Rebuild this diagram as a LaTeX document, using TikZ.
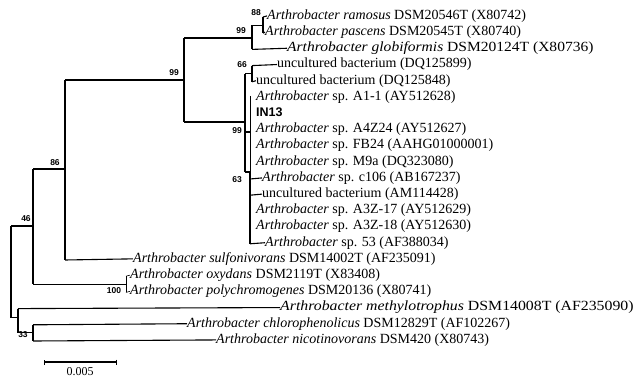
\documentclass[tikz,border=0pt]{standalone}
\usepackage{fontspec}
\usepackage{graphicx}
\setmainfont{Liberation Serif}
\newfontfamily\bsfam{Liberation Sans}
\usetikzlibrary{arrows.meta}
\newcommand{\lfont}{\fontsize{14}{16}\selectfont}
\newcommand{\bfont}{\bsfam\bfseries\fontsize{8.5}{9}\selectfont}
\newcommand{\A}{\textit{Arthrobacter}}
\newcommand{\sx}[2]{\scalebox{#1}[1]{#2}}
\begin{document}
\begin{tikzpicture}[x=1pt,y=-1pt,
  br/.style={line width=1.1pt},
  thinbr/.style={line width=0.6pt},
  lf/.style={anchor=mid west,inner sep=0pt,font=\lfont},
  bs/.style={inner sep=0pt,font=\bfont}]
\useasboundingbox (0,0) rectangle (634,379);
% leaves
\node[lf] (ram)  at (267,17.0)  {\textit{Arthrobacter ramosus} DSM20546T (X80742)};
\node[lf] (pas)  at (265,33.2)  {\textit{Arthrobacter pascens} DSM20545T (X80740)};
\node[lf] (glo)  at (287,49.4)  {\sx{1.11}{\textit{Arthrobacter globiformis} DSM20124T (X80736)}};
\node[lf] (unA)  at (277,65.6)  {uncultured bacterium (DQ125899)};
\node[lf] (unB)  at (256,81.8)  {uncultured bacterium (DQ125848)};
\node[lf] (a11)  at (256,98.0)  {\A{} sp. A1-1 (AY512628)};
\node[lf,font=\bsfam\bfseries\fontsize{12.5}{14}\selectfont] (in13) at (256,114.2) {IN13};
\node[lf] (a4z)  at (256,130.4) {\A{} sp. A4Z24 (AY512627)};
\node[lf] (fb)   at (256,146.6) {\A{} sp. FB24 (AAHG01000001)};
\node[lf] (m9a)  at (256,162.8) {\A{} sp. M9a (DQ323080)};
\node[lf] (c106) at (262,179.0) {\A{} sp. c106 (AB167237)};
\node[lf] (am)   at (262,195.2) {uncultured bacterium (AM114428)};
\node[lf] (a17)  at (256,211.4) {\A{} sp. A3Z-17 (AY512629)};
\node[lf] (a18)  at (256,227.6) {\A{} sp. A3Z-18 (AY512630)};
\node[lf] (s53)  at (265,243.8) {\A{} sp. 53 (AF388034)};
\node[lf] (sul)  at (133,260.0) {\textit{Arthrobacter sulfonivorans} DSM14002T (AF235091)};
\node[lf] (oxy)  at (130,276.2) {\textit{Arthrobacter oxydans} DSM2119T (X83408)};
\node[lf] (pol)  at (130,292.4) {\textit{Arthrobacter polychromogenes} DSM20136 (X80741)};
\node[lf] (met)  at (280,308.6) {\sx{1.13}{\textit{Arthrobacter methylotrophus} DSM14008T (AF235090)}};
\node[lf] (chl)  at (187,324.8) {\textit{Arthrobacter chlorophenolicus} DSM12829T (AF102267)};
\node[lf] (nic)  at (216,341.0) {\textit{Arthrobacter nicotinovorans} DSM420 (X80743)};
% internal nodes
\coordinate (root) at (11,226);
\coordinate (n46) at (33,226);
\coordinate (n86) at (65,169);
\coordinate (n100) at (126,284.3);
\coordinate (n99a) at (184,80);
\coordinate (n99b) at (252,38);
\coordinate (n88) at (263,25.1);
\coordinate (n99c) at (245,122);
\coordinate (n66) at (252,73.7);
\coordinate (npol) at (250,132);
\coordinate (n63) at (250,172);
\coordinate (n33) at (18,317.5);
\coordinate (nch) at (33,332.9);
% branches
\draw[br] (11,226) -- (11,317.5);
\draw[br] (root) -- (n46);
\draw[br] (33,169) -- (33,284.3);
\draw[br] (33,169) -- (n86);
\draw[br] (65,80) -- (65,260);
\draw[br] (65,260) -- (sul.west);
\draw[br] (33,284.3) -- (n100);
\draw[thinbr] (126,276.2) -- (126,292.4);
\draw[thinbr] (126,276.2) -- (oxy.west);
\draw[thinbr] (126,292.4) -- (pol.west);
\draw[br] (65,80) -- (n99a);
\draw[br] (184,38) -- (184,122);
\draw[br] (184,38) -- (n99b);
\draw[br] (252,25.1) -- (252,49.4);
\draw[br] (252,49.4) -- (glo.west);
\draw[br] (n99b |- n88) -- (n88);
\draw[br] (263,17) -- (263,33.2);
\draw[br] (263,17) -- (ram.west);
\draw[br] (263,33.2) -- (pas.west);
\draw[br] (184,122) -- (n99c);
\draw[br] (245,73.7) -- (245,172);
\draw[br] (245,73.7) -- (n66);
\draw[br] (252,65.6) -- (252,81.8);
\draw[br] (252,65.6) -- (unA.west);
\draw[br] (252,81.8) -- (unB.west);
\draw[thinbr] (250,96) -- (250,172);
\draw[br] (245,132) -- (npol);
\draw[br] (245,172) -- (n63);
\draw[br] (250,172) -- (250,243.8);
\draw[br] (250,179) -- (c106.west);
\draw[br] (250,195.2) -- (am.west);
\draw[br] (250,243.8) -- (s53.west);
\draw[br] (11,317.5) -- (n33);
\draw[br] (18,308.6) -- (18,332.9);
\draw[br] (18,308.6) -- (met.west);
\draw[br] (18,332.9) -- (nch);
\draw[br] (33,324.8) -- (33,341);
\draw[br] (33,324.8) -- (chl.west);
\draw[br] (33,341) -- (nic.west);
% bootstrap values
\node[bs] (b88) at (256,13) {88};
\node[bs] (b99b) at (241,31) {99};
\node[bs] (b99a) at (174,73) {99};
\node[bs] (b66) at (242,65) {66};
\node[bs] (b99c) at (237,131) {99};
\node[bs] (b63) at (237,180) {63};
\node[bs] (b86) at (55,163) {86};
\node[bs] (b46) at (26,219) {46};
\node[bs] (b100) at (114,291) {100};
\node[bs] (b33) at (23,335) {33};
% scale bar
\coordinate (sbL) at (44,362);
\coordinate (sbR) at (117,362);
\draw[br,{Bar[width=5pt]}-{Bar[width=5pt]}] (sbL) -- (sbR);
\node[font=\fontsize{12}{13}\selectfont,inner sep=0pt] (sbt) at (80,372) {0.005};
\end{tikzpicture}
\end{document}
